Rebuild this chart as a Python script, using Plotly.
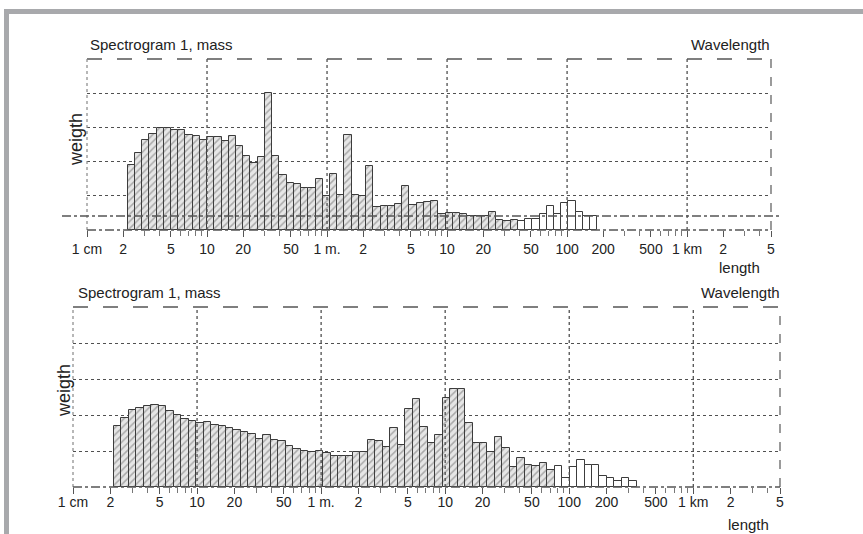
import numpy as np
import plotly.graph_objects as go

# ---------------- data ----------------
tick_values_m = [0.01, 0.02, 0.05, 0.1, 0.2, 0.5, 1, 2, 5, 10, 20, 50, 100, 200, 500, 1000, 2000, 5000]
tick_labels = ["1 cm", "2", "5", "10", "20", "50", "1 m.", "2", "5", "10", "20", "50",
               "100", "200", "500", "1 km", "2", "5"]
minor_tick_values_m = [0.03, 0.04, 0.06, 0.07, 0.08, 0.09, 0.3, 0.4, 0.6, 0.7, 0.8, 0.9,
                       3, 4, 6, 7, 8, 9, 30, 40, 60, 70, 80, 90, 300, 400, 600, 700, 800, 900,
                       3000, 4000]
grid_values_m = [0.1, 1, 10, 100, 1000]
x_range_m = [0.01, 5000]

bin_ratio = 2 ** 0.2  # fifth-octave bins

top_first_edge_m = 0.0218
top_hatched_bins = 54
top_weights = [1.89, 2.25, 2.64, 2.81, 2.98, 2.98, 2.93, 2.91, 2.79, 2.76,
               2.64, 2.72, 2.72, 2.61, 2.76, 2.45, 2.16, 1.96, 2.13, 4.00,
               2.17, 1.62, 1.38, 1.35, 1.22, 1.22, 1.48, 0.98, 1.63, 1.02,
               2.78, 1.01, 0.98, 1.86, 0.68, 0.70, 0.71, 0.75, 1.30, 0.72,
               0.80, 0.83, 0.85, 0.47, 0.50, 0.49, 0.48, 0.42, 0.40, 0.40,
               0.54, 0.29, 0.27, 0.29, 0.26, 0.33, 0.33, 0.48, 0.71, 0.46,
               0.80, 0.85, 0.54, 0.42, 0.42]
top_ref_level = 0.41

bottom_first_edge_m = 0.0214
bottom_hatched_bins = 59
bottom_weights = [1.69, 1.92, 2.15, 2.19, 2.25, 2.29, 2.24, 2.12, 2.01, 1.90,
                  1.82, 1.77, 1.80, 1.73, 1.69, 1.64, 1.57, 1.52, 1.46, 1.33,
                  1.45, 1.31, 1.27, 1.13, 1.05, 1.00, 0.98, 0.99, 0.95, 0.86,
                  0.86, 0.86, 0.96, 0.98, 1.30, 1.27, 1.12, 1.63, 1.17, 2.17,
                  2.45, 1.67, 1.22, 1.45, 2.48, 2.71, 2.71, 1.77, 1.21, 1.21,
                  0.98, 1.39, 1.07, 0.55, 0.81, 0.62, 0.57, 0.66, 0.48, 0.57,
                  0.26, 0.55, 0.75, 0.61, 0.61, 0.30, 0.25, 0.17, 0.26, 0.18]

y_max = 5

# ---------------- figure ----------------
W, H = 863, 534
FONT = "Liberation Sans, Arial, Helvetica, sans-serif"
TXT = "#222222"

def px(x):
    return x / W

def py(y):
    return 1 - y / H

fig = go.Figure()

def add_panel(weights, first_edge, n_hatched, xa, ya):
    w = np.log10(bin_ratio)
    start = np.log10(first_edge)
    centers = [start + (k + 0.5) * w for k in range(len(weights))]
    fig.add_trace(go.Bar(
        x=centers[:n_hatched], y=weights[:n_hatched], width=w,
        xaxis=xa, yaxis=ya, showlegend=False, hoverinfo="skip",
        marker=dict(color="#e2e2e2",
                    line=dict(color="#3c3c3c", width=1),
                    pattern=dict(shape="/", fgcolor="#6c6c6c", bgcolor="#e6e6e6",
                                 size=5, solidity=0.3)),
    ))
    fig.add_trace(go.Bar(
        x=centers[n_hatched:], y=weights[n_hatched:], width=w,
        xaxis=xa, yaxis=ya, showlegend=False, hoverinfo="skip",
        marker=dict(color="#ffffff", line=dict(color="#3c3c3c", width=1)),
    ))

add_panel(top_weights, top_first_edge_m, top_hatched_bins, "x", "y")
add_panel(bottom_weights, bottom_first_edge_m, bottom_hatched_bins, "x2", "y2")

xr = [np.log10(x_range_m[0]), np.log10(x_range_m[1])]
tv = [float(np.log10(v)) for v in tick_values_m]
mv = [float(np.log10(v)) for v in minor_tick_values_m]

def xaxis_cfg(domain, anchor, standoff):
    return dict(domain=domain, anchor=anchor, range=xr, showgrid=False, zeroline=False,
                automargin=False,
                tickmode="array", tickvals=tv, ticktext=tick_labels,
                ticks="outside", ticklen=6, tickcolor="#555555", tickwidth=1,
                ticklabelstandoff=standoff,
                minor=dict(tickmode="array", tickvals=mv, ticks="outside", ticklen=5,
                           tickcolor="#777777", tickwidth=1, showgrid=False),
                tickfont=dict(family=FONT, size=14, color=TXT),
                showline=False, fixedrange=True)

def yaxis_cfg(domain, anchor):
    return dict(domain=domain, anchor=anchor, range=[0, y_max], dtick=1, tick0=0,
                automargin=False,
                showticklabels=False, ticks="", showgrid=True, gridcolor="#505050",
                gridwidth=1.3, griddash="dot", zeroline=False, showline=False,
                layer="above traces", fixedrange=True)

fig.update_layout(
    width=W, height=H, margin=dict(l=0, r=0, t=0, b=0, pad=0, autoexpand=False),
    paper_bgcolor="white", plot_bgcolor="white", bargap=0,
    xaxis=xaxis_cfg([px(87), px(771)], "y", 0),
    yaxis=yaxis_cfg([py(230), py(59)], "x"),
    xaxis2=xaxis_cfg([px(73), px(780)], "y2", -4),
    yaxis2=yaxis_cfg([py(487), py(307)], "x2"),
)

shapes = []
# outer grey frame
shapes.append(dict(type="rect", xref="paper", yref="paper", x0=px(4), x1=1.0,
                   y0=py(14), y1=py(9), fillcolor="#a8a9ac", line=dict(width=0), layer="above"))
shapes.append(dict(type="rect", xref="paper", yref="paper", x0=px(4), x1=px(9),
                   y0=0, y1=py(9), fillcolor="#a8a9ac", line=dict(width=0), layer="above"))

for xa, ya in (("x", "y"), ("x2", "y2")):
    # vertical decade grid lines
    for g in grid_values_m:
        gx = float(np.log10(g))
        shapes.append(dict(type="line", xref=xa, yref=ya + " domain", x0=gx, x1=gx, y0=0, y1=1,
                           line=dict(color="#505050", width=1.3, dash="dot"), layer="above"))
    # borders
    shapes.append(dict(type="line", xref=xa + " domain", yref=ya + " domain", x0=0, x1=1, y0=1, y1=1,
                       line=dict(color="#555555", width=1.5, dash="longdash"), layer="above"))
    shapes.append(dict(type="line", xref=xa + " domain", yref=ya + " domain", x0=0, x1=0, y0=0, y1=1,
                       line=dict(color="#888888", width=1.2, dash="dot"), layer="above"))
    shapes.append(dict(type="line", xref=xa + " domain", yref=ya + " domain", x0=1, x1=1, y0=0, y1=1,
                       line=dict(color="#666666", width=1.3, dash="dash"), layer="above"))
    shapes.append(dict(type="line", xref=xa + " domain", yref=ya + " domain", x0=0, x1=1, y0=0, y1=0,
                       line=dict(color="#555555", width=1.3, dash="dashdot"), layer="above"))

# reference level line in the upper panel
shapes.append(dict(type="line", xref="paper", yref="y", x0=px(62), x1=px(781),
                   y0=top_ref_level, y1=top_ref_level,
                   line=dict(color="#555555", width=1.3, dash="dashdot"), layer="above"))
fig.update_layout(shapes=shapes)

def note(text, x, y, xanchor="center", size=15, angle=0):
    return dict(text=text, x=x, y=y, xref="paper", yref="paper", xanchor=xanchor,
                yanchor="middle", showarrow=False, textangle=angle,
                font=dict(family=FONT, size=size, color=TXT))

fig.update_layout(annotations=[
    note("Spectrogram 1, mass", px(88), py(45), "left"),
    note("Wavelength", px(772), py(45), "right"),
    note("weigth", px(76), py(140), size=18, angle=-90),
    note("length", px(739), py(267)),
    note("Spectrogram 1, mass", px(76), py(292), "left"),
    note("Wavelength", px(782), py(292), "right"),
    note("weigth", px(64), py(391), size=18, angle=-90),
    note("length", px(748), py(524)),
])

fig.write_html("out.html",
               config={"displayModeBar": False},
               post_script="document.body.style.margin='0px';document.body.style.overflow='hidden';")
